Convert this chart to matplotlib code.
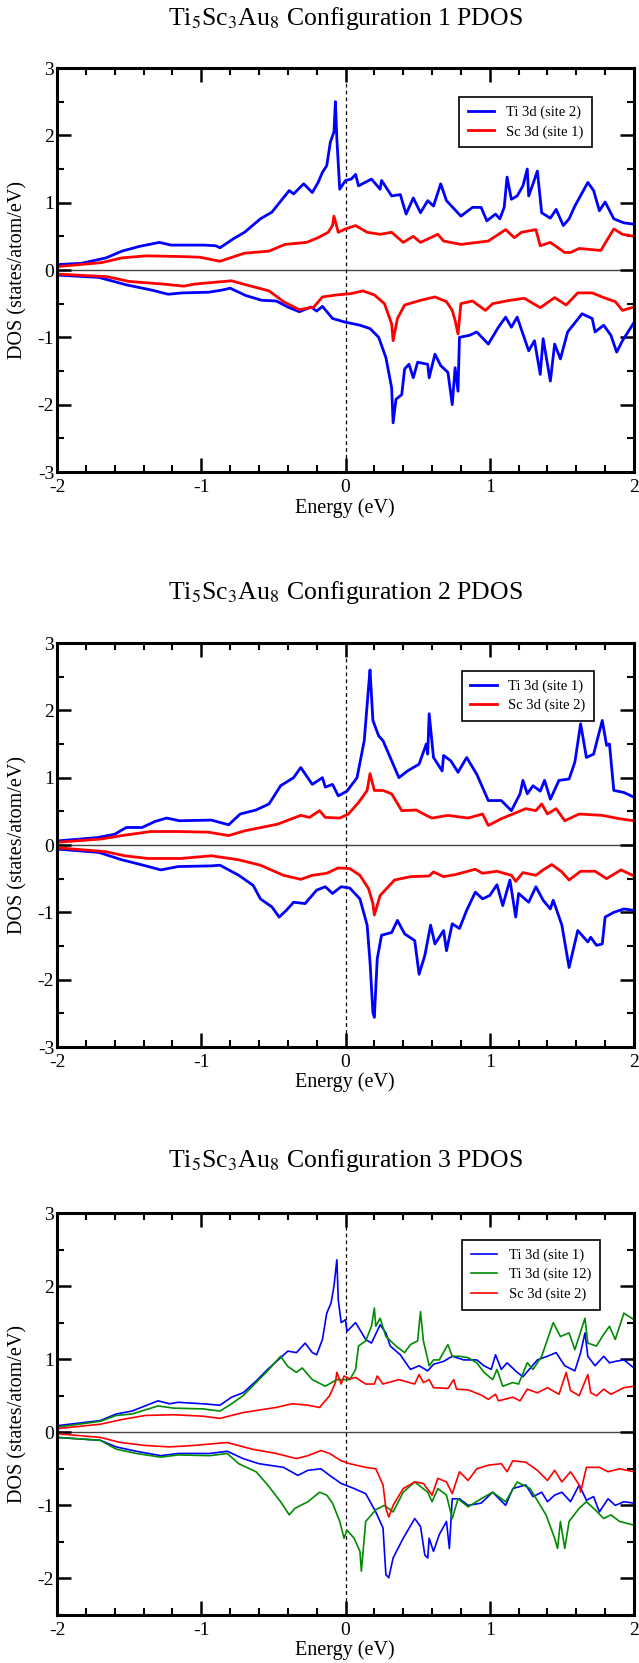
import numpy as np
import matplotlib.pyplot as plt
from matplotlib.ticker import MultipleLocator

plt.rcParams['font.family'] = ['Liberation Serif', 'DejaVu Serif']
plt.rcParams['mathtext.fontset'] = 'stix'
plt.rcParams['axes.unicode_minus'] = False

# ---- Configuration 1 : (energy eV, DOS) pairs ----
c1_ti_up = np.array([
    [-2.0, 0.08], [-1.83, 0.1], [-1.66, 0.18], [-1.55, 0.28], [-1.43, 0.35], [-1.29, 0.41],
    [-1.21, 0.37], [-0.98, 0.37], [-0.90, 0.36], [-0.87, 0.33], [-0.78, 0.46], [-0.70, 0.56],
    [-0.59, 0.76], [-0.51, 0.86], [-0.42, 1.1], [-0.39, 1.18], [-0.36, 1.13], [-0.29, 1.28],
    [-0.23, 1.15], [-0.19, 1.3], [-0.16, 1.45], [-0.13, 1.55], [-0.105, 1.9], [-0.08, 2.05],
    [-0.07, 2.5], [-0.06, 1.95], [-0.04, 1.2], [0.0, 1.33], [0.04, 1.35], [0.07, 1.42],
    [0.09, 1.25], [0.18, 1.35], [0.24, 1.2], [0.25, 1.33], [0.32, 1.1], [0.38, 1.12],
    [0.42, 0.83], [0.47, 1.07], [0.52, 0.85], [0.57, 1.03], [0.61, 0.95], [0.66, 1.28],
    [0.70, 1.03], [0.80, 0.8], [0.88, 0.93], [0.94, 0.93], [0.98, 0.73], [1.04, 0.83],
    [1.07, 0.76], [1.10, 0.93], [1.12, 1.38], [1.15, 1.05], [1.19, 1.1], [1.23, 1.25],
    [1.26, 1.5], [1.27, 1.1], [1.30, 1.28], [1.33, 1.47], [1.36, 0.85], [1.42, 0.77],
    [1.46, 0.9], [1.51, 0.66], [1.55, 0.76], [1.59, 0.95], [1.68, 1.3], [1.72, 1.18],
    [1.76, 0.88], [1.80, 1.01], [1.86, 0.76], [1.93, 0.70], [2.0, 0.68]])
c1_sc_up = np.array([
    [-2.0, 0.05], [-1.69, 0.11], [-1.55, 0.18], [-1.38, 0.21], [-1.15, 0.2], [-1.01, 0.19],
    [-0.87, 0.13], [-0.70, 0.25], [-0.53, 0.28], [-0.42, 0.38], [-0.27, 0.41], [-0.19, 0.48],
    [-0.12, 0.56], [-0.09, 0.66], [-0.08, 0.8], [-0.05, 0.56], [0.0, 0.61], [0.07, 0.66],
    [0.15, 0.56], [0.24, 0.53], [0.32, 0.56], [0.40, 0.41], [0.47, 0.5], [0.52, 0.41],
    [0.64, 0.53], [0.68, 0.43], [0.80, 0.38], [0.99, 0.43], [1.11, 0.6], [1.17, 0.48],
    [1.22, 0.56], [1.32, 0.6], [1.35, 0.36], [1.42, 0.41], [1.52, 0.26], [1.56, 0.26],
    [1.62, 0.32], [1.77, 0.29], [1.86, 0.61], [1.92, 0.53], [2.0, 0.5]])
c1_ti_dn = np.array([
    [-2.0, -0.075], [-1.71, -0.11], [-1.52, -0.22], [-1.34, -0.3], [-1.23, -0.36], [-1.13, -0.34],
    [-0.95, -0.33], [-0.86, -0.3], [-0.80, -0.27], [-0.69, -0.38], [-0.58, -0.45], [-0.48, -0.46],
    [-0.40, -0.55], [-0.32, -0.62], [-0.24, -0.55], [-0.20, -0.61], [-0.16, -0.54], [-0.09, -0.72],
    [-0.01, -0.77], [0.10, -0.82], [0.17, -0.87], [0.23, -1.0], [0.28, -1.3], [0.32, -1.75],
    [0.33, -2.27], [0.35, -1.92], [0.39, -1.85], [0.41, -1.47], [0.44, -1.4], [0.47, -1.6],
    [0.50, -1.37], [0.57, -1.4], [0.58, -1.6], [0.62, -1.25], [0.66, -1.42], [0.71, -1.52],
    [0.74, -2.0], [0.76, -1.45], [0.78, -1.8], [0.79, -1.0], [0.86, -0.97], [0.91, -0.92],
    [0.99, -1.1], [1.06, -0.85], [1.11, -0.7], [1.15, -0.85], [1.19, -0.7], [1.27, -1.2],
    [1.31, -1.05], [1.35, -1.55], [1.37, -1.02], [1.42, -1.65], [1.45, -1.1], [1.49, -1.32],
    [1.54, -0.92], [1.64, -0.65], [1.71, -0.72], [1.73, -0.92], [1.79, -0.82], [1.84, -0.97],
    [1.88, -1.22], [1.92, -1.05], [2.0, -0.78]])
c1_sc_dn = np.array([
    [-2.0, -0.06], [-1.65, -0.1], [-1.50, -0.17], [-1.26, -0.21], [-1.12, -0.24], [-1.05, -0.21],
    [-0.84, -0.17], [-0.79, -0.16], [-0.69, -0.22], [-0.53, -0.31], [-0.43, -0.47], [-0.32, -0.59],
    [-0.22, -0.55], [-0.16, -0.4], [-0.06, -0.37], [0.04, -0.35], [0.12, -0.31], [0.20, -0.37],
    [0.27, -0.5], [0.32, -0.8], [0.33, -1.05], [0.36, -0.72], [0.41, -0.52], [0.52, -0.45],
    [0.62, -0.4], [0.70, -0.47], [0.74, -0.6], [0.76, -0.75], [0.78, -0.95], [0.80, -0.5],
    [0.88, -0.46], [0.97, -0.6], [1.02, -0.5], [1.14, -0.45], [1.24, -0.42], [1.35, -0.56],
    [1.45, -0.41], [1.53, -0.52], [1.61, -0.34], [1.71, -0.34], [1.79, -0.41], [1.87, -0.47],
    [1.92, -0.6], [2.0, -0.55]])

# ---- Configuration 2 ----
c2_ti_up = np.array([
    [-2.0, 0.06], [-1.72, 0.11], [-1.60, 0.16], [-1.52, 0.26], [-1.41, 0.26], [-1.32, 0.35],
    [-1.24, 0.4], [-1.15, 0.36], [-0.93, 0.37], [-0.81, 0.3], [-0.73, 0.46], [-0.62, 0.52],
    [-0.53, 0.61], [-0.45, 0.88], [-0.36, 1.0], [-0.31, 1.15], [-0.23, 0.9], [-0.16, 1.0],
    [-0.14, 0.86], [-0.09, 0.9], [-0.05, 0.73], [0.01, 0.8], [0.08, 1.0], [0.13, 1.55],
    [0.16, 2.35], [0.17, 2.6], [0.19, 1.85], [0.23, 1.62], [0.26, 1.55], [0.32, 1.25],
    [0.37, 1.0], [0.43, 1.1], [0.51, 1.2], [0.56, 1.5], [0.57, 1.35], [0.58, 1.95],
    [0.61, 1.3], [0.67, 1.1], [0.68, 1.33], [0.73, 1.25], [0.78, 1.08], [0.84, 1.3],
    [0.91, 1.05], [0.99, 0.66], [1.08, 0.66], [1.15, 0.51], [1.21, 0.76], [1.23, 0.96],
    [1.26, 0.76], [1.30, 0.88], [1.35, 0.8], [1.38, 0.96], [1.42, 0.68], [1.48, 0.96],
    [1.55, 0.98], [1.59, 1.23], [1.63, 1.8], [1.67, 1.3], [1.72, 1.35], [1.78, 1.85],
    [1.81, 1.48], [1.83, 1.5], [1.86, 0.81], [1.93, 0.78], [2.0, 0.71]])
c2_sc_up = np.array([
    [-2.0, 0.04], [-1.69, 0.09], [-1.55, 0.14], [-1.35, 0.2], [-1.15, 0.2], [-0.95, 0.19],
    [-0.81, 0.14], [-0.70, 0.21], [-0.47, 0.31], [-0.31, 0.44], [-0.25, 0.41], [-0.18, 0.51],
    [-0.14, 0.41], [-0.04, 0.4], [0.02, 0.46], [0.09, 0.63], [0.15, 0.81], [0.17, 1.06],
    [0.20, 0.81], [0.26, 0.81], [0.32, 0.76], [0.39, 0.51], [0.49, 0.52], [0.56, 0.44],
    [0.60, 0.4], [0.71, 0.44], [0.85, 0.4], [0.95, 0.46], [0.99, 0.29], [1.08, 0.39],
    [1.16, 0.46], [1.25, 0.54], [1.32, 0.51], [1.36, 0.61], [1.40, 0.46], [1.46, 0.54],
    [1.52, 0.36], [1.62, 0.46], [1.78, 0.44], [1.90, 0.39], [2.0, 0.36]])
c2_ti_dn = np.array([
    [-2.0, -0.06], [-1.71, -0.11], [-1.55, -0.22], [-1.42, -0.29], [-1.28, -0.37], [-1.16, -0.32],
    [-0.93, -0.31], [-0.87, -0.3], [-0.74, -0.45], [-0.64, -0.6], [-0.59, -0.8], [-0.51, -0.92],
    [-0.46, -1.07], [-0.41, -0.97], [-0.36, -0.85], [-0.28, -0.87], [-0.20, -0.67], [-0.14, -0.62],
    [-0.09, -0.72], [-0.03, -0.62], [0.03, -0.64], [0.10, -0.8], [0.15, -1.19], [0.17, -1.74],
    [0.19, -2.49], [0.20, -2.56], [0.22, -1.69], [0.25, -1.34], [0.32, -1.3], [0.36, -1.12],
    [0.41, -1.32], [0.48, -1.42], [0.51, -1.92], [0.55, -1.64], [0.59, -1.19], [0.62, -1.47],
    [0.68, -1.27], [0.70, -1.57], [0.74, -1.17], [0.79, -1.24], [0.84, -0.97], [0.90, -0.7],
    [0.95, -0.8], [1.00, -0.75], [1.05, -0.59], [1.09, -0.9], [1.14, -0.52], [1.18, -1.07],
    [1.20, -0.72], [1.27, -0.85], [1.32, -0.62], [1.37, -0.82], [1.42, -0.95], [1.44, -0.82],
    [1.50, -1.19], [1.55, -1.82], [1.61, -1.27], [1.68, -1.44], [1.70, -1.37], [1.74, -1.49],
    [1.78, -1.47], [1.80, -1.07], [1.86, -1.0], [1.93, -0.95], [2.0, -0.97]])
c2_sc_dn = np.array([
    [-2.0, -0.04], [-1.66, -0.1], [-1.53, -0.16], [-1.37, -0.2], [-1.14, -0.2], [-0.93, -0.16],
    [-0.74, -0.22], [-0.59, -0.3], [-0.43, -0.45], [-0.31, -0.51], [-0.23, -0.45], [-0.13, -0.42],
    [-0.05, -0.34], [0.03, -0.35], [0.10, -0.45], [0.16, -0.65], [0.19, -0.87], [0.20, -1.04],
    [0.24, -0.75], [0.34, -0.52], [0.45, -0.47], [0.58, -0.46], [0.61, -0.4], [0.68, -0.47],
    [0.76, -0.44], [0.90, -0.36], [0.95, -0.42], [1.05, -0.39], [1.15, -0.45], [1.18, -0.54],
    [1.23, -0.41], [1.32, -0.45], [1.37, -0.37], [1.43, -0.29], [1.50, -0.4], [1.55, -0.52],
    [1.63, -0.39], [1.73, -0.39], [1.81, -0.5], [1.91, -0.37], [2.0, -0.46]])

# ---- Configuration 3 ----
c3_ti1_up = np.array([
    [-2.0, 0.09], [-1.70, 0.16], [-1.59, 0.25], [-1.48, 0.29], [-1.39, 0.36], [-1.30, 0.43],
    [-1.22, 0.39], [-1.16, 0.41], [-0.99, 0.39], [-0.87, 0.37], [-0.79, 0.48], [-0.71, 0.54],
    [-0.62, 0.7], [-0.54, 0.86], [-0.45, 1.02], [-0.40, 1.11], [-0.34, 1.09], [-0.28, 1.22],
    [-0.23, 1.09], [-0.20, 1.06], [-0.16, 1.27], [-0.13, 1.63], [-0.10, 1.77], [-0.08, 2.0],
    [-0.06, 2.36], [-0.05, 1.81], [-0.03, 1.5], [0.0, 1.54], [0.01, 1.38], [0.07, 1.5],
    [0.14, 1.27], [0.18, 1.22], [0.24, 1.47], [0.28, 1.36], [0.31, 1.18], [0.38, 1.06],
    [0.45, 0.86], [0.51, 0.91], [0.57, 0.84], [0.61, 0.93], [0.68, 0.97], [0.74, 1.04],
    [0.82, 0.99], [0.91, 0.99], [0.96, 0.91], [1.01, 0.86], [1.04, 1.06], [1.08, 0.86],
    [1.12, 0.95], [1.19, 0.82], [1.23, 0.76], [1.33, 0.99], [1.40, 1.04], [1.46, 1.09],
    [1.52, 0.91], [1.59, 0.84], [1.63, 1.09], [1.66, 1.36], [1.68, 1.04], [1.73, 0.91],
    [1.79, 1.04], [1.83, 0.95], [1.87, 0.97], [1.93, 0.99], [2.0, 0.88]])
c3_ti12_up = np.array([
    [-2.0, 0.07], [-1.70, 0.15], [-1.59, 0.23], [-1.48, 0.25], [-1.30, 0.36], [-1.19, 0.33],
    [-0.99, 0.32], [-0.87, 0.29], [-0.79, 0.39], [-0.71, 0.5], [-0.62, 0.68], [-0.54, 0.84],
    [-0.45, 1.04], [-0.40, 0.9], [-0.34, 0.82], [-0.30, 0.88], [-0.23, 0.72], [-0.14, 0.63],
    [-0.06, 0.72], [0.03, 0.72], [0.07, 0.86], [0.09, 1.18], [0.14, 1.25], [0.18, 1.45],
    [0.20, 1.7], [0.21, 1.45], [0.24, 1.56], [0.28, 1.31], [0.35, 1.18], [0.41, 1.09],
    [0.45, 1.2], [0.50, 1.25], [0.52, 1.65], [0.54, 1.25], [0.58, 0.91], [0.61, 0.99],
    [0.65, 0.99], [0.71, 1.2], [0.74, 1.04], [0.79, 1.04], [0.85, 1.02], [0.91, 0.95],
    [0.96, 0.82], [1.02, 0.72], [1.05, 0.86], [1.09, 0.63], [1.16, 0.68], [1.20, 0.66],
    [1.26, 0.95], [1.30, 0.86], [1.36, 1.04], [1.44, 1.5], [1.49, 1.31], [1.55, 1.36],
    [1.59, 1.13], [1.66, 1.56], [1.68, 1.22], [1.74, 1.18], [1.79, 1.34], [1.83, 1.45],
    [1.87, 1.27], [1.93, 1.63], [2.0, 1.54]])
c3_sc_up = np.array([
    [-2.0, 0.05], [-1.70, 0.11], [-1.56, 0.17], [-1.39, 0.23], [-1.19, 0.24], [-0.99, 0.22],
    [-0.87, 0.19], [-0.71, 0.27], [-0.48, 0.34], [-0.37, 0.39], [-0.26, 0.37], [-0.18, 0.34],
    [-0.11, 0.5], [-0.07, 0.68], [-0.06, 0.82], [-0.03, 0.66], [-0.01, 0.77], [0.03, 0.73],
    [0.07, 0.75], [0.14, 0.66], [0.20, 0.66], [0.22, 0.77], [0.26, 0.66], [0.37, 0.72],
    [0.48, 0.66], [0.51, 0.79], [0.54, 0.68], [0.58, 0.72], [0.61, 0.61], [0.71, 0.6],
    [0.75, 0.72], [0.77, 0.59], [0.85, 0.58], [0.94, 0.51], [0.99, 0.45], [1.04, 0.52],
    [1.06, 0.43], [1.16, 0.48], [1.21, 0.43], [1.26, 0.59], [1.33, 0.54], [1.40, 0.61],
    [1.48, 0.52], [1.53, 0.82], [1.56, 0.57], [1.62, 0.5], [1.68, 0.79], [1.70, 0.54],
    [1.74, 0.5], [1.79, 0.59], [1.84, 0.52], [1.93, 0.61], [2.0, 0.63]])
c3_ti1_dn = np.array([
    [-2.0, -0.07], [-1.70, -0.11], [-1.59, -0.2], [-1.45, -0.26], [-1.28, -0.32], [-1.16, -0.29],
    [-0.94, -0.29], [-0.82, -0.26], [-0.71, -0.36], [-0.60, -0.43], [-0.43, -0.48], [-0.33, -0.59],
    [-0.26, -0.52], [-0.17, -0.5], [-0.11, -0.59], [-0.03, -0.7], [0.06, -0.77], [0.14, -0.84],
    [0.21, -1.09], [0.26, -1.31], [0.28, -1.95], [0.30, -1.99], [0.33, -1.72], [0.40, -1.45],
    [0.48, -1.18], [0.52, -1.29], [0.55, -1.68], [0.57, -1.72], [0.58, -1.45], [0.61, -1.63],
    [0.65, -1.4], [0.70, -1.22], [0.72, -1.59], [0.74, -0.91], [0.79, -0.91], [0.85, -1.0],
    [0.94, -0.97], [1.02, -0.82], [1.11, -1.0], [1.16, -0.77], [1.25, -0.72], [1.30, -0.88],
    [1.36, -0.82], [1.40, -0.95], [1.45, -0.86], [1.50, -0.82], [1.56, -0.95], [1.62, -0.72],
    [1.67, -0.93], [1.72, -0.88], [1.76, -1.09], [1.82, -0.91], [1.87, -1.0], [1.93, -0.95],
    [2.0, -0.97]])
c3_ti12_dn = np.array([
    [-2.0, -0.07], [-1.70, -0.11], [-1.59, -0.23], [-1.45, -0.29], [-1.28, -0.34], [-1.16, -0.31],
    [-0.94, -0.32], [-0.82, -0.29], [-0.74, -0.43], [-0.62, -0.54], [-0.54, -0.72], [-0.45, -0.95],
    [-0.39, -1.13], [-0.35, -1.04], [-0.26, -0.95], [-0.18, -0.82], [-0.13, -0.86], [-0.09, -0.97],
    [-0.04, -1.22], [-0.01, -1.45], [0.01, -1.34], [0.06, -1.45], [0.10, -1.63], [0.11, -1.9],
    [0.14, -1.22], [0.21, -1.06], [0.27, -1.0], [0.33, -1.09], [0.40, -0.82], [0.48, -0.68],
    [0.57, -0.82], [0.60, -0.95], [0.64, -0.77], [0.70, -0.86], [0.74, -1.18], [0.78, -0.91],
    [0.85, -1.02], [0.94, -0.91], [1.02, -0.82], [1.11, -0.95], [1.19, -0.68], [1.28, -0.77],
    [1.35, -1.0], [1.39, -1.13], [1.45, -1.45], [1.47, -1.59], [1.49, -1.22], [1.52, -1.59],
    [1.55, -1.22], [1.62, -1.04], [1.67, -0.95], [1.73, -1.06], [1.79, -1.18], [1.84, -1.13],
    [1.90, -1.22], [2.0, -1.27]])
c3_sc_dn = np.array([
    [-2.0, -0.02], [-1.70, -0.07], [-1.56, -0.14], [-1.39, -0.18], [-1.22, -0.2], [-1.05, -0.18],
    [-0.82, -0.14], [-0.65, -0.23], [-0.48, -0.29], [-0.34, -0.36], [-0.26, -0.32], [-0.17, -0.25],
    [-0.11, -0.29], [-0.03, -0.39], [0.03, -0.43], [0.14, -0.48], [0.21, -0.5], [0.26, -0.72],
    [0.28, -1.04], [0.30, -1.16], [0.33, -1.0], [0.40, -0.77], [0.48, -0.68], [0.54, -0.7],
    [0.60, -0.86], [0.64, -0.63], [0.70, -0.68], [0.74, -0.84], [0.79, -0.54], [0.85, -0.66],
    [0.91, -0.5], [0.99, -0.45], [1.08, -0.43], [1.12, -0.54], [1.16, -0.39], [1.25, -0.41],
    [1.33, -0.52], [1.40, -0.66], [1.45, -0.52], [1.50, -0.68], [1.56, -0.54], [1.62, -0.72],
    [1.63, -0.82], [1.67, -0.48], [1.76, -0.48], [1.82, -0.54], [1.90, -0.5], [2.0, -0.54]])

panels = [
    dict(title='Configuration 1', ylim=(-3, 3), lw=2.0,
         series=[(c1_ti_up, c1_ti_dn, 'Ti 3d (site 2)', '#0000ff'),
                 (c1_sc_up, c1_sc_dn, 'Sc 3d (site 1)', '#ff0000')]),
    dict(title='Configuration 2', ylim=(-3, 3), lw=2.0,
         series=[(c2_ti_up, c2_ti_dn, 'Ti 3d (site 1)', '#0000ff'),
                 (c2_sc_up, c2_sc_dn, 'Sc 3d (site 2)', '#ff0000')]),
    dict(title='Configuration 3', ylim=(-2.5, 3), lw=1.2,
         series=[(c3_ti1_up, c3_ti1_dn, 'Ti 3d (site 1)', '#0000ff'),
                 (c3_ti12_up, c3_ti12_dn, 'Ti 3d (site 12)', '#008b00'),
                 (c3_sc_up, c3_sc_dn, 'Sc 3d (site 2)', '#ff0000')]),
]

W, H = 639, 1663
fig = plt.figure(figsize=(W / 100, H / 100), dpi=100)

# pixel boxes (left, top, right, bottom), title y, xlabel y, legend anchor
boxes = [(57, 68, 634, 472, 19, 508, (0.927, 0.928)),
         (57, 643, 634, 1047, 592, 1082, (0.931, 0.931)),
         (57, 1213, 634, 1615, 1161, 1650, (0.941, 0.933))]

for p, (l, t, r, b, ty, xly, anc) in zip(panels, boxes):
    ax = fig.add_axes([l / W, 1 - b / H, (r - l) / W, (b - t) / H])
    for up, dn, lab, col in p['series']:
        ax.plot(up[:, 0], up[:, 1], color=col, lw=p['lw'], label=lab)
        ax.plot(dn[:, 0], dn[:, 1], color=col, lw=p['lw'])
    ax.axhline(0, color='#444444', lw=1.0, zorder=0)
    ax.axvline(0, color='black', lw=0.9, ls=(0, (3, 2.5)), zorder=0)
    ax.set_xlim(-2, 2)
    ax.set_ylim(*p['ylim'])
    ax.xaxis.set_major_locator(MultipleLocator(1))
    ax.xaxis.set_minor_locator(MultipleLocator(0.2))
    ax.yaxis.set_major_locator(MultipleLocator(1))
    ax.yaxis.set_minor_locator(MultipleLocator(0.5))
    ax.tick_params(which='both', direction='in', top=True, right=True, labelsize=14)
    ax.tick_params(which='major', length=10, width=1.8)
    ax.tick_params(which='minor', length=5, width=1.5)
    ax.tick_params(axis='x', pad=5)
    ax.tick_params(axis='y', pad=2)
    for s in ax.spines.values():
        s.set_linewidth(2.2)
    leg = ax.legend(loc='upper right', bbox_to_anchor=anc, borderaxespad=0,
                    fontsize=10.5, handlelength=1.8, fancybox=False,
                    edgecolor='black', framealpha=1, borderpad=0.6, labelspacing=0.4)
    leg.get_frame().set_linewidth(1.2)
    fig.text(345 / W, 1 - ty / H,
             r'Ti$_{\mathrm{5}}$Sc$_{\mathrm{3}}$Au$_{\mathrm{8}}$ ' + p['title'] + ' PDOS',
             ha='center', va='center', fontsize=18.5)
    fig.text(345 / W, 1 - xly / H, 'Energy (eV)', ha='center', va='center', fontsize=14.5)
    fig.text(18 / W, 1 - (t + b) / 2 / H, 'DOS (states/atom/eV)', rotation=90,
             ha='center', va='center', fontsize=14.5)

fig.savefig('out.png', dpi=100)
